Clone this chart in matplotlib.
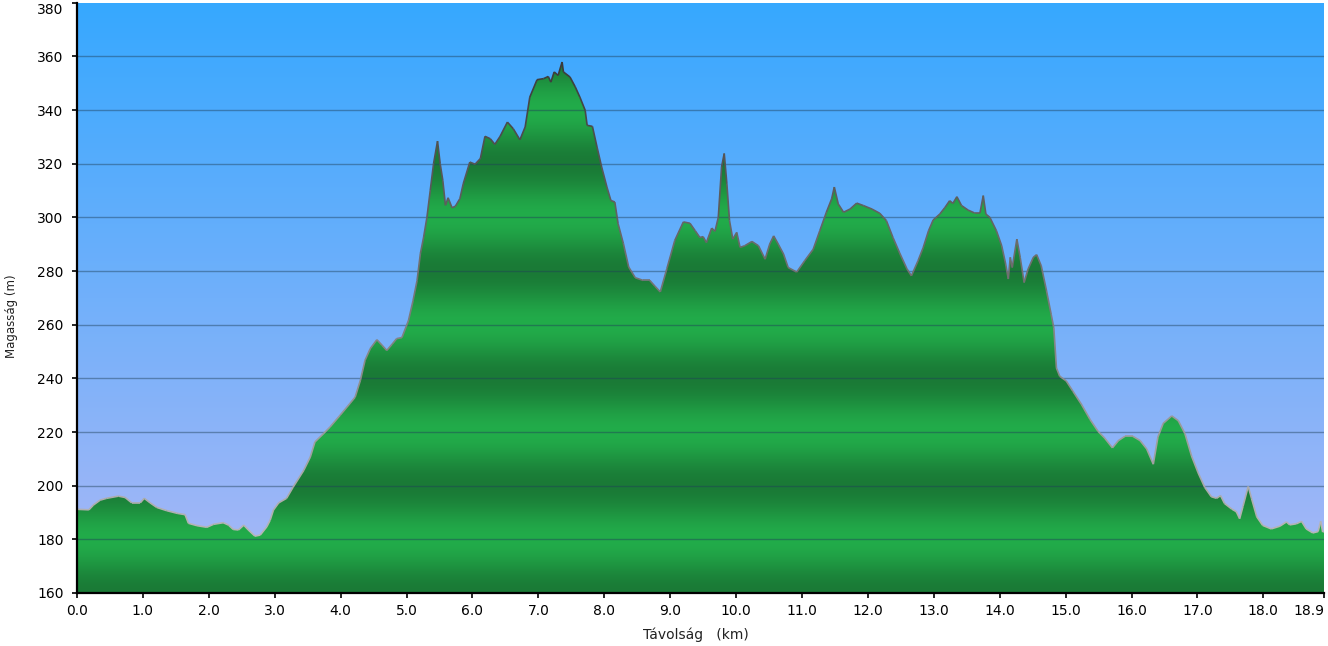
"""
elevation profile - distance vs altitude with banded green fill
"""
import numpy as np
import matplotlib.pyplot as plt
from matplotlib.patches import Polygon
from matplotlib.collections import LineCollection

# distance along the route (km) and altitude (m)
dist = [0.00, 0.18, 0.25, 0.35, 0.45, 0.63, 0.73, 0.83, 0.96, 1.02,
        1.11, 1.21, 1.36, 1.52, 1.64, 1.69, 1.82, 1.97, 2.07, 2.22,
        2.30, 2.37, 2.45, 2.53, 2.60, 2.70, 2.78, 2.88, 2.93, 2.98,
        3.06, 3.18, 3.28, 3.44, 3.54, 3.61, 3.74, 3.84, 3.99, 4.14,
        4.22, 4.30, 4.37, 4.45, 4.55, 4.63, 4.70, 4.78, 4.85, 4.93,
        5.03, 5.10, 5.16, 5.21, 5.26, 5.31, 5.36, 5.41, 5.47, 5.51,
        5.55, 5.59, 5.63, 5.69, 5.74, 5.81, 5.86, 5.96, 6.04, 6.12,
        6.19, 6.27, 6.34, 6.42, 6.53, 6.62, 6.72, 6.80, 6.87, 6.98,
        7.08, 7.15, 7.19, 7.24, 7.30, 7.36, 7.38, 7.48, 7.56, 7.63,
        7.71, 7.74, 7.82, 7.89, 7.96, 8.04, 8.10, 8.16, 8.21, 8.29,
        8.37, 8.47, 8.59, 8.69, 8.77, 8.85, 8.95, 9.07, 9.20, 9.30,
        9.38, 9.45, 9.50, 9.55, 9.63, 9.68, 9.73, 9.78, 9.82, 9.86,
        9.90, 9.95, 10.01, 10.06, 10.13, 10.24, 10.34, 10.44, 10.51, 10.57,
        10.64, 10.72, 10.79, 10.92, 11.04, 11.17, 11.27, 11.37, 11.45, 11.49,
        11.55, 11.63, 11.73, 11.83, 11.93, 12.06, 12.18, 12.28, 12.38, 12.48,
        12.59, 12.66, 12.76, 12.84, 12.92, 12.99, 13.09, 13.17, 13.24, 13.29,
        13.35, 13.42, 13.52, 13.62, 13.70, 13.75, 13.79, 13.85, 13.95, 14.03,
        14.09, 14.13, 14.16, 14.19, 14.26, 14.31, 14.37, 14.43, 14.51, 14.56,
        14.63, 14.71, 14.78, 14.82, 14.86, 14.91, 15.01, 15.11, 15.24, 15.37,
        15.49, 15.59, 15.71, 15.80, 15.90, 16.02, 16.13, 16.23, 16.33, 16.40,
        16.48, 16.61, 16.71, 16.81, 16.91, 17.01, 17.11, 17.21, 17.29, 17.35,
        17.41, 17.52, 17.59, 17.64, 17.69, 17.77, 17.82, 17.90, 17.99, 18.12,
        18.25, 18.35, 18.40, 18.50, 18.58, 18.65, 18.75, 18.83, 18.87, 18.90,
        18.92]
elev = [191.2, 191.0, 192.8, 194.6, 195.3, 196.1, 195.6, 193.6, 193.6, 195.3,
        193.6, 191.9, 190.7, 189.7, 189.2, 186.0, 185.1, 184.5, 185.6, 186.2,
        185.3, 183.7, 183.5, 185.3, 183.5, 181.2, 181.6, 184.7, 187.1, 190.9,
        193.6, 195.3, 199.5, 205.7, 210.7, 216.3, 219.4, 221.9, 226.2, 230.6,
        233.0, 239.3, 246.7, 251.1, 254.4, 252.3, 250.4, 252.7, 254.8, 255.2,
        261.6, 269.1, 276.5, 286.5, 292.7, 300.1, 310.1, 320.0, 328.4, 320.0,
        313.8, 304.5, 307.3, 303.6, 304.1, 307.0, 312.5, 320.6, 319.8, 321.9,
        330.2, 329.3, 327.2, 330.2, 335.5, 333.0, 328.9, 333.7, 344.8, 351.3,
        351.7, 352.5, 350.4, 354.2, 352.9, 357.9, 354.2, 352.3, 348.6, 344.8,
        339.9, 334.3, 333.9, 326.2, 318.8, 311.3, 306.3, 305.7, 297.6, 290.2,
        281.5, 277.5, 276.5, 276.5, 274.3, 272.2, 280.9, 291.4, 298.3, 297.8,
        295.0, 292.5, 292.8, 290.6, 296.0, 294.8, 300.0, 318.8, 323.8, 312.5,
        298.8, 291.9, 294.4, 288.8, 289.4, 291.0, 289.4, 284.4, 290.0, 293.1,
        290.0, 286.3, 281.3, 279.6, 283.8, 288.1, 295.0, 301.9, 306.9, 311.3,
        305.0, 301.9, 303.1, 305.3, 304.4, 303.1, 301.5, 298.8, 292.5, 286.8,
        280.9, 278.2, 283.8, 288.8, 295.0, 299.0, 301.2, 303.7, 306.2, 305.2,
        307.7, 304.4, 302.7, 301.6, 301.6, 308.1, 301.2, 300.0, 295.0, 289.4,
        282.6, 277.0, 285.1, 281.3, 291.9, 285.1, 275.7, 280.7, 285.1, 286.1,
        281.9, 272.6, 263.9, 258.9, 243.9, 240.8, 239.0, 235.2, 230.3, 224.7,
        220.3, 217.8, 214.1, 216.8, 218.4, 218.4, 216.8, 213.7, 208.0, 218.1,
        223.2, 226.0, 224.2, 219.4, 211.1, 204.8, 199.4, 195.9, 195.3, 196.3,
        193.4, 191.3, 190.3, 187.7, 192.2, 199.7, 195.3, 188.4, 185.2, 183.9,
        184.9, 186.5, 185.4, 185.8, 186.7, 183.9, 182.4, 182.9, 186.7, 182.7,
        183.0]

xmax = 18.92
ymin, ymax = 160, 380
xticks = [0, 1, 2, 3, 4, 5, 6, 7, 8, 9, 10, 11, 12, 13, 14, 15, 16, 17, 18, xmax]
xtick_labels = ["0.0", "1.0", "2.0", "3.0", "4.0", "5.0", "6.0", "7.0", "8.0", "9.0",
                "10.0", "11.0", "12.0", "13.0", "14.0", "15.0", "16.0", "17.0", "18.0", "18.9"]
yticks = list(range(160, 381, 20))

dist = np.array(dist)
elev = np.array(elev)

fig = plt.figure(figsize=(13.28, 6.46), dpi=100)
ax = fig.add_axes([77 / 1328, 53 / 646, 1247 / 1328, 590.3 / 646])

# sky: blue at the top fading to lavender at the bottom
h = np.linspace(0, 1, 300)[:, None]
top = np.array([54, 168, 255]) / 255
bot = np.array([172, 184, 246]) / 255
sky = bot + h[..., None] * (top - bot)
ax.imshow(np.repeat(sky, 2, axis=1), extent=[0, xmax, ymin, ymax],
          aspect='auto', origin='lower', zorder=0, interpolation='bilinear')

# green fill with light/dark bands every 20 m
e = np.linspace(ymin, ymax, 1200)
t = 0.5 + 0.5 * np.cos(np.pi * (e - 180) / 20)
light = np.array([34, 172, 74]) / 255
dark = np.array([26, 122, 54]) / 255
band = dark + t[:, None] * (light - dark)
green = np.repeat(band[:, None, :], 2, axis=1)
im = ax.imshow(green, extent=[0, xmax, ymin, ymax], aspect='auto',
               origin='lower', zorder=1, interpolation='bilinear')
verts = np.column_stack([np.r_[dist[0], dist, dist[-1]],
                         np.r_[150, elev, 150]])
poly = Polygon(verts, closed=True, facecolor='none', edgecolor='none',
               transform=ax.transData)
ax.add_patch(poly)
im.set_clip_path(poly)

# grid lines on top of everything
for y in yticks[1:-1]:
    ax.axhline(y, color=(0.12, 0.25, 0.35), alpha=0.45, lw=1.0, zorder=2)

# outline: light grey low down, dark grey up high
pts = np.column_stack([dist, elev])
segs = np.stack([pts[:-1], pts[1:]], axis=1)
mid = (elev[:-1] + elev[1:]) / 2
g = np.clip(0.72 - (mid - 180) / 180 * 0.5, 0.22, 0.72)
cols = np.column_stack([g, g, g])
ax.add_collection(LineCollection(segs, colors=cols, linewidths=1.2, zorder=3))

ax.set_xlim(0, xmax)
ax.set_ylim(ymin, ymax)

for side in ['top', 'right']:
    ax.spines[side].set_visible(False)
for side in ['left', 'bottom']:
    ax.spines[side].set_linewidth(1.6)
    ax.spines[side].set_zorder(5)

ax.set_xticks(xticks)
ax.set_xticklabels(xtick_labels)
ax.get_xticklabels()[-1].set_horizontalalignment('right')
ax.set_yticks(yticks)
ax.tick_params(axis='both', direction='out', length=3.6, width=1.2,
               labelsize=10, colors='black')
ax.tick_params(axis='x', pad=4)
ax.tick_params(axis='y', pad=6)
# top label would be cut at the figure edge, hang it below the tick
ax.get_yticklabels()[-1].set_verticalalignment('top')

ax.set_ylabel('Magasság (m)', fontsize=8.5, color='#222222')
ax.yaxis.set_label_coords(-0.047, 0.469)
ax.set_xlabel('Távolság   (km)', fontsize=10, color='#222222')
ax.xaxis.set_label_coords(0.496, -0.059)

fig.savefig('out.png', dpi=100)
